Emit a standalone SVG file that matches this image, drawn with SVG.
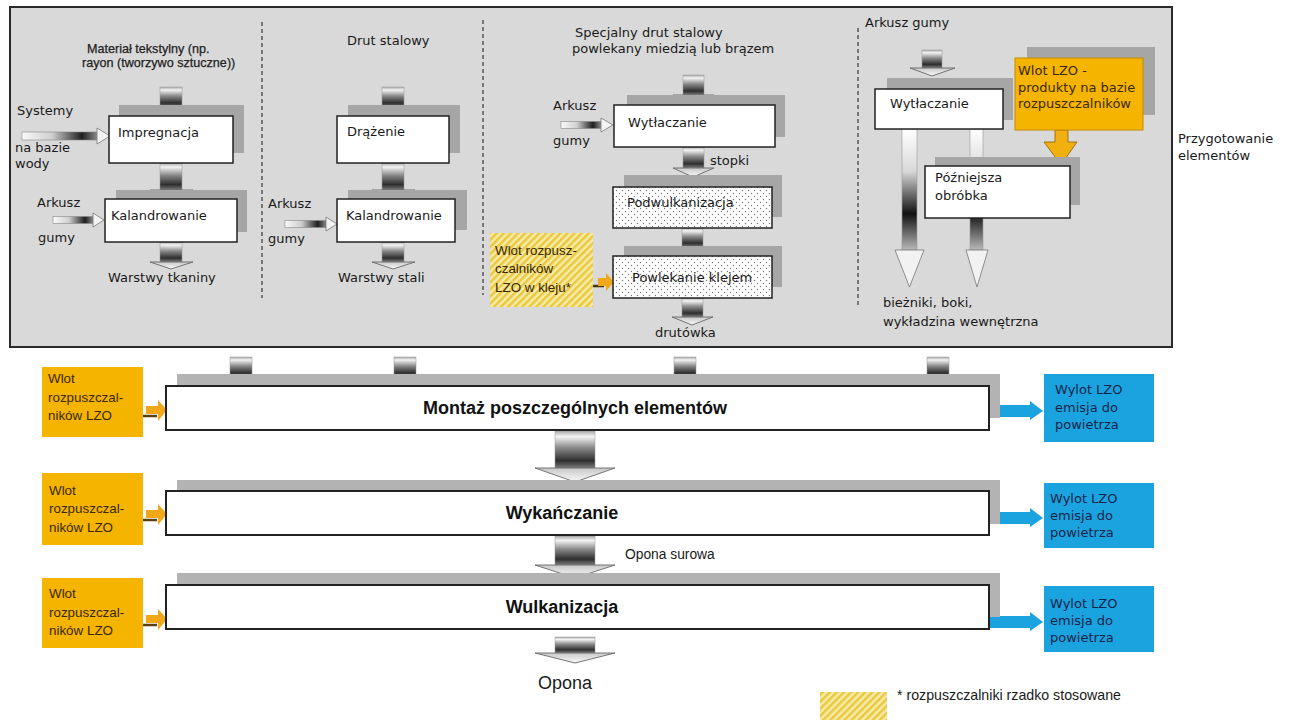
<svg xmlns="http://www.w3.org/2000/svg" width="1295" height="720" viewBox="0 0 1295 720">
<style>
.t{font-family:"DejaVu Sans",sans-serif;font-size:13px;fill:#1a1a1a}
.n{font-family:"Liberation Sans",Arial,sans-serif;font-size:13.8px;fill:#1a1a1a}
.hdr{font-family:"Liberation Sans",Arial,sans-serif;font-size:12.6px;fill:#222;stroke:#222;stroke-width:0.25}
.b{font-family:"Liberation Sans",Arial,sans-serif;font-size:18px;font-weight:bold;fill:#111}
.or{font-family:"Liberation Sans",Arial,sans-serif;font-size:13.4px;fill:#3a2800}
.bl{font-family:"DejaVu Sans",sans-serif;font-size:13px;fill:#14254a}
.box{fill:#fff;stroke:#222;stroke-width:1.5}
.dot{fill:url(#dots);stroke:#222;stroke-width:1.5}
.sh{fill:#a6a6a6}
.shb{fill:#b3b3b3}
.bigbox{fill:#fff;stroke:#222;stroke-width:2}
.dash{stroke:#555;stroke-width:1.5;stroke-dasharray:4 3;fill:none}
.shaft{fill:url(#gV);stroke:#999;stroke-width:0.5}
.head{fill:url(#gHead);stroke:#666;stroke-width:0.9}
.hshaft{fill:url(#gH);stroke:#888;stroke-width:0.6}
.hhead{fill:#f2f2f2;stroke:#777;stroke-width:0.8}
.lshaft{fill:url(#gL);stroke:#999;stroke-width:0.6}
.orange{fill:#f5b400}
.oarr{fill:#f0a818}
.blue{fill:#1ba3df}
.barr{fill:#1ba3df}
</style>
<defs>
<linearGradient id="gV" x1="0" y1="0" x2="0" y2="1">
<stop offset="0" stop-color="#a8a8a8"/>
<stop offset="0.15" stop-color="#f4f4f4"/>
<stop offset="0.45" stop-color="#8a8a8a"/>
<stop offset="0.8" stop-color="#2e2e2e"/>
<stop offset="1" stop-color="#7a7a7a"/>
</linearGradient>
<linearGradient id="gHead" x1="0" y1="0" x2="0" y2="1">
<stop offset="0" stop-color="#c8c8c8"/>
<stop offset="1" stop-color="#fafafa"/>
</linearGradient>
<linearGradient id="gH" x1="0" y1="0" x2="1" y2="0">
<stop offset="0" stop-color="#fafafa"/>
<stop offset="0.4" stop-color="#cfcfcf"/>
<stop offset="0.8" stop-color="#1e1e1e"/>
<stop offset="1" stop-color="#8a8a8a"/>
</linearGradient>
<linearGradient id="gL" x1="0" y1="0" x2="0" y2="1">
<stop offset="0" stop-color="#ffffff"/>
<stop offset="0.35" stop-color="#d8d8d8"/>
<stop offset="0.7" stop-color="#111"/>
<stop offset="1" stop-color="#b8b8b8"/>
</linearGradient>
<pattern id="dots" width="6" height="6" patternUnits="userSpaceOnUse">
<rect width="6" height="6" fill="#fff"/>
<circle cx="1.5" cy="1.5" r="0.7" fill="#777"/>
<circle cx="4.5" cy="4.5" r="0.7" fill="#777"/>
</pattern>
<pattern id="hatch" width="5" height="5" patternUnits="userSpaceOnUse" patternTransform="rotate(45)">
<rect width="5" height="5" fill="#f7eba8"/>
<rect width="2.5" height="5" fill="#e9c840"/>
</pattern>
</defs>

<rect width="1295" height="720" fill="#fff"/>

<g id="panel">
<rect x="10" y="7" width="1162" height="340" fill="#d9d9d9" stroke="#2a2a2a" stroke-width="2"/>
<line class="dash" x1="262" y1="22" x2="262" y2="298"/>
<line class="dash" x1="483" y1="20" x2="483" y2="295"/>
<line class="dash" x1="858" y1="28" x2="858" y2="305"/>
</g>

<g id="labels">
<text class="hdr" x="87" y="53">Materiał tekstylny (np.</text>
<text class="hdr" x="82" y="67">rayon (tworzywo sztuczne))</text>
<text class="t" x="17" y="115">Systemy</text>
<text class="t" x="15" y="152">na bazie</text>
<text class="t" x="15" y="168">wody</text>
<text class="t" x="37" y="207">Arkusz</text>
<text class="t" x="38" y="242">gumy</text>
<text class="t" x="108" y="282">Warstwy tkaniny</text>
<text class="t" x="347" y="45">Drut stalowy</text>
<text class="t" x="268" y="208">Arkusz</text>
<text class="t" x="268" y="243">gumy</text>
<text class="t" x="338" y="282">Warstwy stali</text>
<text class="t" x="575" y="37">Specjalny drut stalowy</text>
<text class="t" x="572" y="53">powlekany miedzią lub brązem</text>
<text class="t" x="553" y="110">Arkusz</text>
<text class="t" x="553" y="145">gumy</text>
<text class="t" x="710" y="165">stopki</text>
<text class="t" x="655" y="337">drutówka</text>
<text class="t" x="865" y="27">Arkusz gumy</text>
<text class="t" x="883" y="307">bieżniki, boki,</text>
<text class="t" x="883" y="326">wykładzina wewnętrzna</text>
<text class="t" x="1178" y="143">Przygotowanie</text>
<text class="t" x="1178" y="160">elementów</text>
<text class="n" x="625" y="559">Opona surowa</text>
<text class="n" x="538" y="689" style="font-size:18px">Opona</text>
<text class="n" x="897" y="700" style="font-size:14.2px">* rozpuszczalniki rzadko stosowane</text>
</g>

<g id="connectors">
<rect class="shaft" x="160" y="87" width="22" height="20"/><polygon class="head" points="150,107 193,107 171,115"/>
<rect class="shaft" x="160" y="163" width="22" height="27"/><polygon class="head" points="150,190 193,190 171,198"/>
<rect class="shaft" x="160" y="242" width="22" height="20"/><polygon class="head" points="150,262 193,262 171,269"/>
<rect class="hshaft" x="22" y="132" width="75" height="8"/><polygon class="hhead" points="97,128 97,144 110,136"/>
<rect class="hshaft" x="53" y="216.5" width="40" height="7"/><polygon class="hhead" points="93,213 93,227 104,220"/>
<rect class="shaft" x="382" y="87" width="22" height="20"/><polygon class="head" points="372,107 415,107 393,115"/>
<rect class="shaft" x="382" y="163" width="22" height="27"/><polygon class="head" points="372,190 415,190 393,198"/>
<rect class="shaft" x="382" y="242" width="22" height="20"/><polygon class="head" points="372,262 415,262 393,269"/>
<rect class="hshaft" x="285" y="220.5" width="41" height="7"/><polygon class="hhead" points="326,217 326,231 337,224"/>
<rect class="shaft" x="683" y="75" width="21" height="20"/><polygon class="head" points="673,95 714,95 693,103"/>
<rect class="shaft" x="683" y="147" width="21" height="21"/><polygon class="head" points="673,168 714,168 693,177"/>
<rect class="shaft" x="682" y="228" width="21" height="19"/><polygon class="head" points="672,247 713,247 692,254"/>
<rect class="shaft" x="682" y="298" width="21" height="19"/><polygon class="head" points="672,317 713,317 692,325"/>
<rect class="hshaft" x="561" y="121.5" width="40" height="7"/><polygon class="hhead" points="601,118 601,132 613,125"/>
<line x1="592" y1="286" x2="604" y2="286" stroke="#4a3608" stroke-width="2.5"/>
<polygon class="oarr" points="598,278 606,278 606,273 614,282 606,291 606,286 598,286"/>
<rect class="shaft" x="922" y="50" width="20" height="18"/><polygon class="head" points="910,68 955,68 932,76"/>
<rect class="lshaft" x="902" y="129" width="15" height="121"/><polygon class="hhead" points="895,250 924,250 909.5,287"/>
<rect class="lshaft" x="970" y="129" width="13" height="121"/><polygon class="hhead" points="966,250 988,250 977,287"/>
<polygon fill="#f2b010" stroke="#8a6000" stroke-width="0.8" points="1055,130 1068,130 1068,142 1077,142 1061,165 1044,142 1055,142"/>
<rect class="shaft" x="230" y="357" width="22" height="20"/><polygon class="head" points="220,377 262,377 241,386"/>
<rect class="shaft" x="394" y="357" width="22" height="20"/><polygon class="head" points="384,377 426,377 405,386"/>
<rect class="shaft" x="674" y="357" width="22" height="20"/><polygon class="head" points="664,377 706,377 685,386"/>
<rect class="shaft" x="927" y="357" width="22" height="20"/><polygon class="head" points="917,377 959,377 938,386"/>
<rect class="shaft" x="555" y="431" width="40" height="37"/><polygon class="head" points="535,468 615,468 575,482"/>
<rect class="shaft" x="555" y="536" width="40" height="29"/><polygon class="head" points="535,565 615,565 575,578"/>
<rect class="shaft" x="555" y="637" width="40" height="16"/><polygon class="head" points="535,653 615,653 575,663"/>
<line x1="143" y1="416" x2="157" y2="416" stroke="#5a4008" stroke-width="2.5"/>
<polygon class="oarr" points="146,406 158,406 158,400 167,410 158,421 158,414 146,414"/>
<line x1="143" y1="520" x2="157" y2="520" stroke="#5a4008" stroke-width="2.5"/>
<polygon class="oarr" points="146,510 158,510 158,504 167,514 158,525 158,518 146,518"/>
<line x1="143" y1="625" x2="157" y2="625" stroke="#5a4008" stroke-width="2.5"/>
<polygon class="oarr" points="146,615 158,615 158,609 167,619 158,630 158,623 146,623"/>
<polygon class="barr" points="990,405 1030,405 1030,401 1043,411 1030,420 1030,417 990,417"/>
<polygon class="barr" points="990,512 1030,512 1030,508 1043,518 1030,527 1030,524 990,524"/>
<polygon class="barr" points="990,616 1030,616 1030,612 1043,622 1030,631 1030,628 990,628"/>
</g>

<g id="n-impregnacja"><rect class="sh" x="119" y="105" width="125" height="48"/><rect class="box" x="109" y="116" width="124" height="47"/><text class="t" x="118" y="137">Impregnacja</text></g>
<g id="n-kaland1"><rect class="sh" x="116" y="190" width="131" height="42"/><rect class="box" x="105" y="199" width="132" height="43"/><text class="t" x="111" y="220">Kalandrowanie</text></g>
<g id="n-drazenie"><rect class="sh" x="348" y="105" width="112" height="48"/><rect class="box" x="337" y="116" width="112" height="47"/><text class="t" x="347" y="136">Drążenie</text></g>
<g id="n-kaland2"><rect class="sh" x="348" y="190" width="119" height="40"/><rect class="box" x="337" y="199" width="118" height="43"/><text class="t" x="346" y="220">Kalandrowanie</text></g>
<g id="n-wytl1"><rect class="sh" x="627" y="95" width="158" height="42"/><rect class="box" x="614" y="105" width="161" height="42"/><text class="t" x="628" y="127">Wytłaczanie</text></g>
<g id="n-podwulk"><rect class="sh" x="624" y="175" width="158" height="42"/><rect class="dot" x="613" y="187" width="159" height="41"/><text class="t" x="627" y="207">Podwulkanizacja</text></g>
<g id="n-powlek"><rect class="sh" x="624" y="246" width="158" height="41"/><rect class="dot" x="613" y="256" width="159" height="42"/><text class="t" x="632" y="282">Powlekanie klejem</text></g>
<g id="n-wlot-klej"><rect x="490" y="233" width="103" height="74" fill="url(#hatch)"/><text class="or" x="495" y="255">Wlot rozpusz-</text><text class="or" x="495" y="273">czalników</text><text class="or" x="495" y="292">LZO w kleju*</text></g>
<g id="n-wytl2"><rect class="sh" x="887" y="78" width="126" height="42"/><rect class="box" x="875" y="89" width="128" height="40"/><text class="t" x="890" y="108">Wytłaczanie</text></g>
<g id="n-wlot-lzo"><rect class="sh" x="1027" y="47" width="128" height="68"/><rect x="1015" y="58" width="128" height="72" fill="#f5b400" stroke="#c88a00" stroke-width="1"/><text class="t" x="1018" y="75" style="fill:#3a2800">Wlot LZO -</text><text class="t" x="1018" y="92" style="fill:#3a2800">produkty na bazie</text><text class="t" x="1018" y="108" style="fill:#3a2800">rozpuszczalników</text></g>
<g id="n-pozniejsza"><rect class="sh" x="935" y="157" width="145" height="48"/><rect class="box" x="925" y="166" width="145" height="52"/><text class="t" x="935" y="182">Późniejsza</text><text class="t" x="935" y="200">obróbka</text></g>

<g id="n-montaz"><rect class="shb" x="177" y="374" width="823" height="44"/><rect class="bigbox" x="166" y="386" width="823" height="44"/><text class="b" x="575" y="414" text-anchor="middle">Montaż poszczególnych elementów</text></g>
<g id="n-wykan"><rect class="shb" x="177" y="480" width="823" height="44"/><rect class="bigbox" x="166" y="491" width="823" height="44"/><text class="b" x="562" y="519" text-anchor="middle">Wykańczanie</text></g>
<g id="n-wulk"><rect class="shb" x="177" y="573" width="823" height="44"/><rect class="bigbox" x="166" y="585" width="823" height="44"/><text class="b" x="562" y="613" text-anchor="middle">Wulkanizacja</text></g>

<g id="n-in1"><rect class="orange" x="42" y="367" width="101" height="70"/><text class="or" x="48" y="383">Wlot</text><text class="or" x="48" y="402">rozpuszczal-</text><text class="or" x="48" y="420">ników LZO</text></g>
<g id="n-in2"><rect class="orange" x="42" y="473" width="101" height="72"/><text class="or" x="49" y="495">Wlot</text><text class="or" x="49" y="513">rozpuszczal-</text><text class="or" x="49" y="532">ników LZO</text></g>
<g id="n-in3"><rect class="orange" x="42" y="578" width="101" height="70"/><text class="or" x="49" y="598">Wlot</text><text class="or" x="49" y="617">rozpuszczal-</text><text class="or" x="49" y="635">ników LZO</text></g>

<g id="n-out1"><rect class="blue" x="1044" y="374" width="110" height="68"/><text class="bl" x="1055" y="394">Wylot LZO</text><text class="bl" x="1055" y="412">emisja do</text><text class="bl" x="1055" y="429">powietrza</text></g>
<g id="n-out2"><rect class="blue" x="1044" y="483" width="110" height="65"/><text class="bl" x="1050" y="503">Wylot LZO</text><text class="bl" x="1050" y="520">emisja do</text><text class="bl" x="1050" y="537">powietrza</text></g>
<g id="n-out3"><rect class="blue" x="1044" y="586" width="110" height="66"/><text class="bl" x="1050" y="608">Wylot LZO</text><text class="bl" x="1050" y="625">emisja do</text><text class="bl" x="1050" y="642">powietrza</text></g>

<g id="legend"><rect x="820" y="692" width="67" height="28" fill="url(#hatch)"/></g>
</svg>
